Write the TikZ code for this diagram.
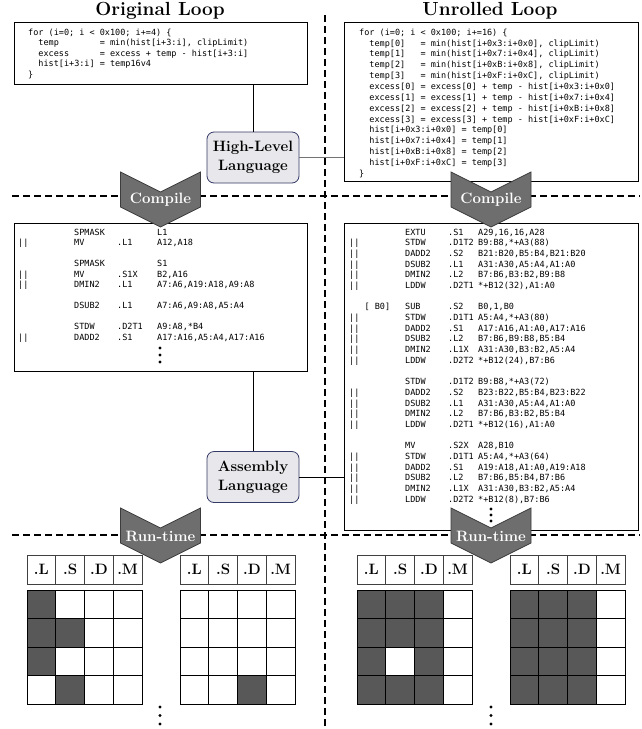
\documentclass[tikz,border=0pt]{standalone}
\usepackage{fontspec}
\setmonofont{DejaVu Sans Mono}
\usetikzlibrary{positioning,calc}
\definecolor{chevfill}{HTML}{6E6E6E}
\definecolor{chevdraw}{HTML}{3C3C3C}
\definecolor{langfill}{HTML}{E8E8EC}
\definecolor{langdraw}{HTML}{343A66}
\definecolor{busy}{HTML}{585858}
\tikzset{
  codebox/.style={draw=black, line width=0.8pt, inner sep=0pt, anchor=north west},
  code/.style={inner sep=0pt, anchor=north west, font=\ttfamily},
  langbox/.style={rounded corners=7pt, draw=langdraw, fill=langfill, line width=0.8pt,
                  minimum width=92pt, minimum height=51pt, align=center,
                  font=\fontsize{15}{19}\selectfont\bfseries},
  title/.style={font=\fontsize{19}{22}\selectfont\bfseries, anchor=base},
  stage/.style={font=\fontsize{15}{17}\selectfont\bfseries, text=white, inner sep=0pt},
  chev/.style={fill=chevfill, draw=chevdraw, line width=0.8pt, line join=miter},
  sep/.style={dash pattern=on 7pt off 4pt, line width=1.6pt},
  link/.style={line width=0.8pt},
  unit/.style={draw=black!75, line width=0.8pt, minimum width=28.75pt, minimum height=29pt,
               inner sep=0pt, font=\fontsize{15}{17}\selectfont\bfseries},
  cell/.style={draw=black, line width=0.8pt},
}
\newcommand{\chevron}[2]{%
  \draw[chev] (#1-40,#2) -- (#1,#2+20) -- (#1+40,#2) -- (#1+40,#2+35)
    -- (#1,#2+55) -- (#1-40,#2+35) -- cycle;}
\newcommand{\dotcol}[3]{%
  \fill (#1,#2) circle (1.6pt) (#1,#2+#3) circle (1.6pt) (#1,#2+2*#3) circle (1.6pt);}

\begin{document}
\begin{tikzpicture}[x=1pt,y=-1pt]
\useasboundingbox (0,0) rectangle (642,729);

% separators
\draw[sep] (325,15) -- (325,727);
\draw[sep] (12,196) -- (640,196);
\draw[sep] (12,535) -- (640,535);

% titles
\node[title] (ttlL) at (160,15.5) {Original Loop};
\node[title] (ttlR) at (490,15.5) {Unrolled Loop};

% code boxes
\node[codebox, minimum width=293pt, minimum height=62pt] (srcL) at (14,22) {};
\node[codebox, minimum width=294pt, minimum height=159pt] (srcR) at (344,22) {};
\node[codebox, minimum width=293pt, minimum height=148pt] (asmL) at (14,223) {};
\node[codebox, minimum width=294pt, minimum height=307pt] (asmR) at (344,223) {};

\node[code] (srcLtxt) at (28,27.6) {\fontsize{8.5}{10.5}\selectfont
\begin{tabular}{@{}l@{}}
for (i=0; i < 0x100; i+=4) \{\\
~~temp~~~~~~~~= min(hist[i+3:i], clipLimit)\\
~~excess~~~~~~= excess + temp - hist[i+3:i]\\
~~hist[i+3:i] = temp16v4\\
\}
\end{tabular}};

\node[code] (srcRtxt) at (359,27.4) {\fontsize{8.5}{10.85}\selectfont
\begin{tabular}{@{}l@{}}
for (i=0; i < 0x100; i+=16) \{\\
~~temp[0]~~~= min(hist[i+0x3:i+0x0], clipLimit)\\
~~temp[1]~~~= min(hist[i+0x7:i+0x4], clipLimit)\\
~~temp[2]~~~= min(hist[i+0xB:i+0x8], clipLimit)\\
~~temp[3]~~~= min(hist[i+0xF:i+0xC], clipLimit)\\
~~excess[0] = excess[0] + temp - hist[i+0x3:i+0x0]\\
~~excess[1] = excess[1] + temp - hist[i+0x7:i+0x4]\\
~~excess[2] = excess[2] + temp - hist[i+0xB:i+0x8]\\
~~excess[3] = excess[3] + temp - hist[i+0xF:i+0xC]\\
~~hist[i+0x3:i+0x0] = temp[0]\\
~~hist[i+0x7:i+0x4] = temp[1]\\
~~hist[i+0xB:i+0x8] = temp[2]\\
~~hist[i+0xF:i+0xC] = temp[3]\\
\}
\end{tabular}};

\node[code] (asmLtxt) at (18,227.6) {\fontsize{8.5}{10.5}\selectfont
\begin{tabular}{@{}p{56pt}@{}p{43pt}@{}p{40pt}@{}l@{}}
   & SPMASK &       & L1\\
|| & MV     & .L1   & A12,A18\\
\\
   & SPMASK &       & S1\\
|| & MV     & .S1X  & B2,A16\\
|| & DMIN2  & .L1   & A7:A6,A19:A18,A9:A8\\
\\
   & DSUB2  & .L1   & A7:A6,A9:A8,A5:A4\\
\\
   & STDW   & .D2T1 & A9:A8,*B4\\
|| & DADD2  & .S1   & A17:A16,A5:A4,A17:A16
\end{tabular}};
\dotcol{160}{348}{7}

\node[code] (asmRtxt) at (349,227.5) {\fontsize{8.5}{10.68}\selectfont
\begin{tabular}{@{}p{56pt}@{}p{43pt}@{}p{30pt}@{}l@{}}
                & EXTU  & .S1   & A29,16,16,A28\\
||              & STDW  & .D1T2 & B9:B8,*+A3(88)\\
||              & DADD2 & .S2   & B21:B20,B5:B4,B21:B20\\
||              & DSUB2 & .L1   & A31:A30,A5:A4,A1:A0\\
||              & DMIN2 & .L2   & B7:B6,B3:B2,B9:B8\\
||              & LDDW  & .D2T1 & *+B12(32),A1:A0\\
\\
~~~{[}~B0]      & SUB   & .S2   & B0,1,B0\\
||              & STDW  & .D1T1 & A5:A4,*+A3(80)\\
||              & DADD2 & .S1   & A17:A16,A1:A0,A17:A16\\
||              & DSUB2 & .L2   & B7:B6,B9:B8,B5:B4\\
||              & DMIN2 & .L1X  & A31:A30,B3:B2,A5:A4\\
||              & LDDW  & .D2T2 & *+B12(24),B7:B6\\
\\
                & STDW  & .D1T2 & B9:B8,*+A3(72)\\
||              & DADD2 & .S2   & B23:B22,B5:B4,B23:B22\\
||              & DSUB2 & .L1   & A31:A30,A5:A4,A1:A0\\
||              & DMIN2 & .L2   & B7:B6,B3:B2,B5:B4\\
||              & LDDW  & .D2T1 & *+B12(16),A1:A0\\
\\
                & MV    & .S2X  & A28,B10\\
||              & STDW  & .D1T1 & A5:A4,*+A3(64)\\
||              & DADD2 & .S1   & A19:A18,A1:A0,A19:A18\\
||              & DSUB2 & .L2   & B7:B6,B5:B4,B7:B6\\
||              & DMIN2 & .L1X  & A31:A30,B3:B2,A5:A4\\
||              & LDDW  & .D2T2 & *+B12(8),B7:B6
\end{tabular}};
\dotcol{491}{509}{6}

% language levels
\node[langbox] (hll) at (253,157.5) {High-Level\\Language};
\node[langbox] (asml) at (253,477) {Assembly\\Language};
\draw[link] (srcL.south -| hll.north) -- (hll.north);
\draw[link, draw=black!55] (hll.east) -- (hll.east -| srcR.west);
\draw[link] (asmL.south -| asml.north) -- (asml.north);
\draw[link] (asml.east) -- (asml.east -| asmR.west);

% stages
\chevron{160.5}{172}
\chevron{491}{172}
\chevron{160.5}{508}
\chevron{491}{508}
\node[stage] (cmpL) at (160.5,200) {Compile};
\node[stage] (cmpR) at (491,200) {Compile};
\node[stage] (runL) at (160.5,536) {Run-time};
\node[stage] (runR) at (491,536) {Run-time};

% functional units
\foreach \gx/\g in {27/a,180/b,357/c,510/d}{
  \foreach \u [count=\i from 0] in {L,S,D,M}
    \node[unit] (\g\u) at (\gx+14.375+28.75*\i,569.5) {.\u};
}
\foreach \c/\r in {0/0,0/1,1/1,0/2,1/3}
  \fill[busy] (27+28.75*\c,590+28.5*\r) rectangle ++(28.75,28.5);
\foreach \c/\r in {2/3}
  \fill[busy] (180+28.75*\c,590+28.5*\r) rectangle ++(28.75,28.5);
\foreach \c/\r in {0/0,1/0,2/0,0/1,1/1,2/1,0/2,2/2,0/3,1/3,2/3}
  \fill[busy] (357+28.75*\c,590+28.5*\r) rectangle ++(28.75,28.5);
\foreach \c/\r in {0/0,1/0,2/0,0/1,1/1,2/1,0/2,1/2,2/2,0/3,1/3,2/3}
  \fill[busy] (510+28.75*\c,590+28.5*\r) rectangle ++(28.75,28.5);
\foreach \gx in {27,180,357,510}
  \foreach \c in {0,...,3}
    \foreach \r in {0,...,3}
      \draw[cell] (\gx+28.75*\c,590+28.5*\r) rectangle ++(28.75,28.5);
\dotcol{160}{707}{8.5}
\dotcol{491}{707}{8.5}
\end{tikzpicture}
\end{document}
